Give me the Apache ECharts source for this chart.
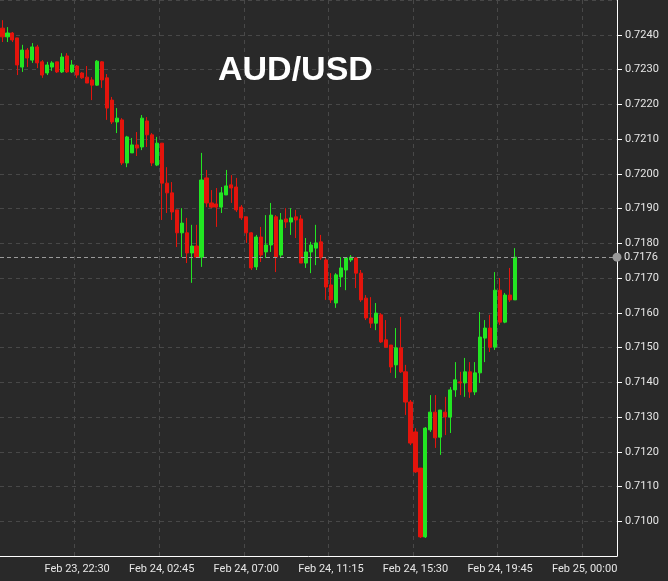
<!DOCTYPE html>
<html>
<head>
<meta charset="utf-8">
<script src="https://cdn.jsdelivr.net/npm/echarts@6/dist/echarts.min.js"></script>
<style>
  html, body { margin: 0; padding: 0; background: #292929; }
  #chart { width: 668px; height: 581px; }
</style>
</head>
<body>
<div id="chart"></div>
<script>
// 15 minute candles, Feb 23 18:45 -> Feb 24 20:30
var startDay = 23, startHour = 18, startMin = 45, slotCount = 124;

var tickLabels = ['Feb 23, 22:30', 'Feb 24, 02:45', 'Feb 24, 07:00', 'Feb 24, 11:15',
	'Feb 24, 15:30', 'Feb 24, 19:45', 'Feb 25, 00:00'];

var opens = [
	.72419,.72394,.72405,.72391,.72307,.72356,.72327,.72365,.72322,.72290,
	.72307,.72322,.72293,.72339,.72293,.72310,.72290,.72278,.72270,.72255,
	.72322,.72276,.72212,.72149,.72155,.72031,.72060,.72083,.72077,.72152,
	.72112,.72025,.72088,.71973,.71945,.71896,.71830,.71830,.71772,.71792,
	.71760,.71988,.71916,.71913,.71904,.71939,.71968,.71962,.71904,.71876,
	.71830,.71732,.71818,.71775,.71795,.71876,.71766,.71870,.71861,.71876,
	.71870,.71743,.71775,.71786,.71804,.71752,.71680,.71628,.71703,.71723,
	.71752,.71758,.71714,.71642,.71585,.71570,.71594,.71522,.71507,.71450,
	.71499,.71430,.71343,.71257,.71153,.70955,.71263,.71314,.71242,.71314,
	.71300,.71378,.71401,.71398,.71430,.71372,.71427,.71527,.71556,.71501,
	.71665,.71573,.71651,.71637];

var closes = [
	.72394,.72405,.72385,.72313,.72356,.72333,.72365,.72319,.72284,.72313,
	.72319,.72293,.72336,.72293,.72313,.72284,.72276,.72261,.72255,.72324,
	.72270,.72189,.72149,.72160,.72031,.72106,.72083,.72074,.72160,.72112,
	.72031,.72088,.71973,.71945,.71890,.71830,.71858,.71772,.71792,.71760,
	.71982,.71916,.71904,.71904,.71945,.71965,.71959,.71896,.71873,.71830,
	.71729,.71818,.71766,.71795,.71881,.71760,.71867,.71861,.71873,.71867,
	.71743,.71775,.71795,.71801,.71758,.71674,.71637,.71709,.71729,.71758,
	.71760,.71714,.71637,.71585,.71570,.71599,.71516,.71501,.71444,.71499,
	.71430,.71343,.71225,.71142,.70955,.71268,.71314,.71240,.71320,.71300,
	.71378,.71407,.71398,.71430,.71372,.71427,.71530,.71556,.71501,.71665,
	.71573,.71651,.71637,.71760];

var lows = [
	.72379,.72379,.72379,.72284,.72293,.72307,.72319,.72304,.72276,.72284,
	.72296,.72290,.72290,.72290,.72290,.72276,.72273,.72261,.72212,.72253,
	.72247,.72155,.72143,.72117,.72025,.72019,.72060,.72051,.72068,.72077,
	.72022,.72022,.71867,.71887,.71867,.71789,.71760,.71743,.71686,.71760,
	.71732,.71904,.71901,.71847,.71887,.71939,.71916,.71890,.71867,.71801,
	.71723,.71723,.71746,.71758,.71775,.71717,.71758,.71844,.71824,.71815,
	.71743,.71729,.71714,.71737,.71752,.71637,.71628,.71614,.71674,.71665,
	.71746,.71671,.71631,.71579,.71556,.71550,.71513,.71501,.71427,.71412,
	.71427,.71306,.71219,.71139,.70952,.70952,.71257,.71211,.71191,.71248,
	.71254,.71358,.71363,.71358,.71355,.71363,.71398,.71458,.71487,.71493,
	.71565,.71570,.71631,.71637];

var highs = [
	.72442,.72422,.72408,.72391,.72371,.72362,.72376,.72371,.72327,.72322,
	.72324,.72322,.72347,.72347,.72327,.72313,.72293,.72310,.72278,.72327,
	.72324,.72287,.72221,.72189,.72160,.72109,.72103,.72120,.72169,.72163,
	.72117,.72106,.72088,.72019,.71976,.71896,.71901,.71873,.71853,.71853,
	.72060,.72011,.71953,.71959,.71962,.72011,.71996,.71988,.71910,.71876,
	.71832,.71824,.71847,.71881,.71916,.71881,.71887,.71901,.71901,.71896,
	.71881,.71815,.71804,.71853,.71824,.71758,.71714,.71714,.71760,.71760,
	.71766,.71758,.71723,.71651,.71645,.71628,.71599,.71579,.71507,.71556,
	.71588,.71450,.71349,.71268,.71153,.71271,.71363,.71363,.71320,.71358,
	.71386,.71458,.71430,.71470,.71458,.71458,.71602,.71579,.71594,.71717,
	.71700,.71657,.71729,.71786];

var lastPrice = 0.7176;

// category names, one per 15 min slot
var times = [];
for (var k = 0; k < slotCount; k++) {
	var m = startMin + startHour * 60 + k * 15;
	var d = startDay + Math.floor(m / 1440);
	m = m % 1440;
	var hh = Math.floor(m / 60), mm = m % 60;
	times.push('Feb ' + d + ', ' + (hh < 10 ? '0' : '') + hh + ':' + (mm < 10 ? '0' : '') + mm);
}

var candles = [];
for (var i = 0; i < opens.length; i++) {
	candles.push([opens[i], closes[i], lows[i], highs[i]]);
}

function isTick(index) {
	return tickLabels.indexOf(times[index]) >= 0;
}

var chart = echarts.init(document.getElementById('chart'));
var option = {
	backgroundColor: '#292929',
	animation: false,
	title: {
		text: 'AUD/USD',
		left: 213,
		top: 49,
		textStyle: {
			color: '#ffffff',
			fontSize: 34,
			fontWeight: 'bold',
			fontFamily: 'Liberation Sans'
		}
	},
	grid: {
		top: 0,
		right: 51,
		bottom: 25,
		left: 0
	},
	xAxis: {
		type: 'category',
		data: times,
		boundaryGap: true,
		axisLine: { lineStyle: { color: '#ffffff', width: 1 } },
		axisTick: {
			alignWithLabel: true,
			interval: isTick,
			length: 5,
			lineStyle: { color: '#ffffff' }
		},
		axisLabel: {
			interval: isTick,
			color: '#e6e6e6',
			fontSize: 11,
			fontFamily: 'Roboto',
			margin: 8
		},
		splitLine: {
			show: true,
			interval: isTick,
			lineStyle: { color: '#484848', type: [4, 4] }
		}
	},
	yAxis: {
		type: 'value',
		position: 'right',
		min: 0.709,
		max: 0.725,
		interval: 0.001,
		axisLine: { show: true, lineStyle: { color: '#ffffff', width: 1 } },
		axisTick: { show: true, length: 5, lineStyle: { color: '#ffffff' } },
		axisLabel: {
			color: '#e6e6e6',
			fontSize: 11,
			fontFamily: 'Roboto',
			showMinLabel: false,
			showMaxLabel: false,
			formatter: function (v) { return v.toFixed(4); }
		},
		splitLine: {
			show: true,
			lineStyle: { color: '#484848', type: [4, 4] }
		}
	},
	series: [{
		name: 'AUD/USD',
		type: 'candlestick',
		data: candles,
		barWidth: 3.6,
		itemStyle: {
			color: '#22e622',
			color0: '#e3140c',
			borderColor: '#22e622',
			borderColor0: '#e3140c',
			borderWidth: 1
		},
		markLine: {
			silent: true,
			precision: 4,
			symbol: ['none', 'circle'],
			symbolSize: 9,
			data: [{ yAxis: lastPrice }],
			lineStyle: { color: '#9a9a9a', type: [4, 3], width: 1 },
			itemStyle: { color: '#8a8a8a' },
			label: {
				position: 'end',
				distance: 7,
				color: '#e6e6e6',
				fontSize: 11,
				fontFamily: 'Roboto',
				formatter: function () { return lastPrice.toFixed(4); }
			}
		}
	}]
};
chart.setOption(option);
</script>
</body>
</html>
